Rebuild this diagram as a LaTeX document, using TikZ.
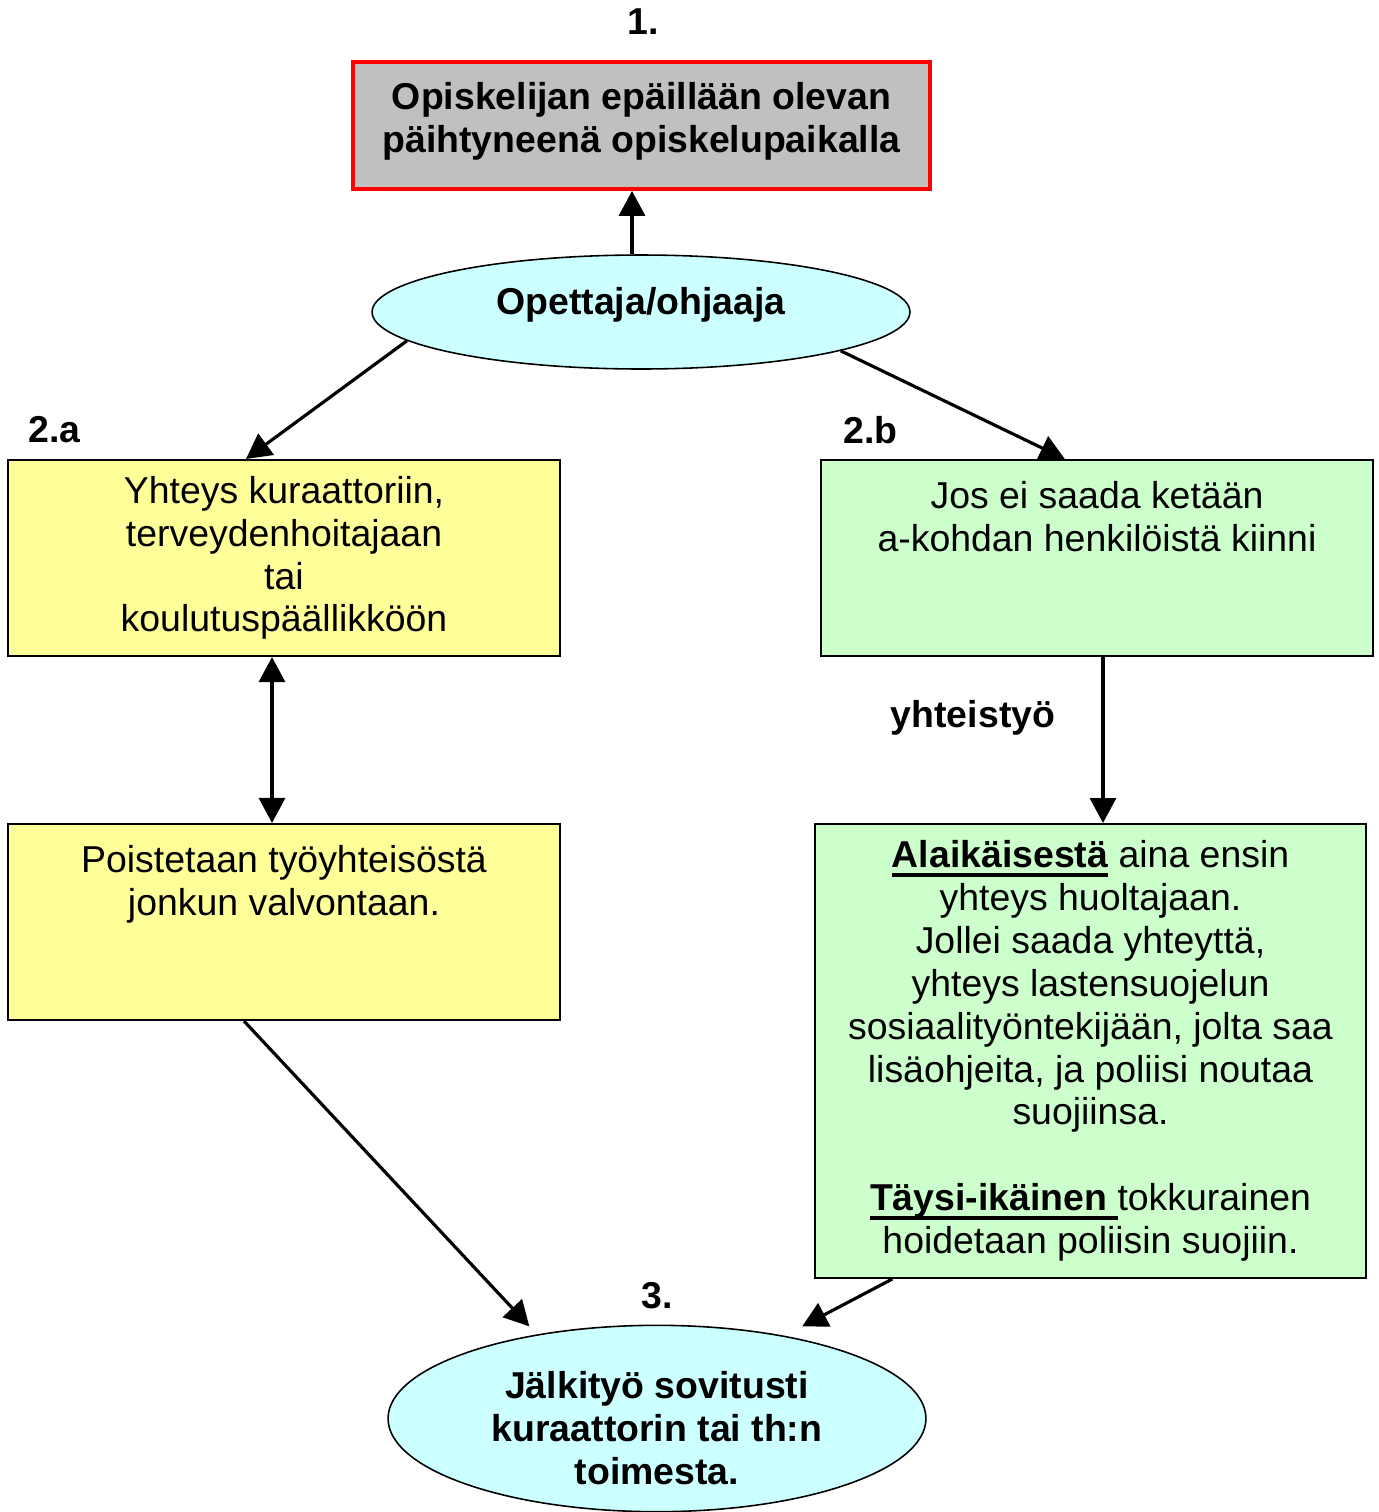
\documentclass[tikz,border=0pt]{standalone}
\usepackage{fontspec}
\setmainfont{Liberation Sans}
\usetikzlibrary{arrows.meta,shapes,calc}
\definecolor{boxgray}{HTML}{C0C0C0}
\definecolor{boxyellow}{HTML}{FFFF99}
\definecolor{boxgreen}{HTML}{CCFFCC}
\definecolor{ovalcyan}{HTML}{CCFFFF}
\newsavebox\undlbox
\newcommand{\undl}[1]{\sbox\undlbox{#1}\rlap{\rule[-5pt]{\wd\undlbox}{2pt}}\usebox\undlbox}
\tikzstyle{stepbox}=[rectangle,draw=black,line width=1.2pt,minimum width=11.04cm,minimum height=3.92cm,inner sep=0pt,align=center,font=\fontsize{21.3}{24.4}\selectfont]
\tikzstyle{oval}=[ellipse,draw=black,line width=0.9pt,fill=ovalcyan,minimum width=10.76cm,inner sep=0pt,align=center,font=\fontsize{21.3}{24.4}\selectfont\bfseries]
\tikzstyle{toptext}=[anchor=north,inner sep=0pt,align=center,yshift=-0.44cm,font=\fontsize{21.3}{24.4}\selectfont]
\tikzstyle{tag}=[inner sep=0pt,font=\fontsize{21.3}{24.4}\selectfont\bfseries]
\tikzstyle{edge}=[draw,line width=1.8pt,-{Triangle[length=0.5cm,width=0.52cm]}]

\begin{document}
\begin{tikzpicture}[x=0.02cm,y=-0.02cm]
    \useasboundingbox (0,0) rectangle (1379,1512);
    % First the boxes and ovals
    \node[rectangle,draw=red,line width=2.2pt,fill=boxgray,minimum width=11.54cm,minimum height=2.54cm,
          text depth=9pt,align=center,font=\fontsize{21.3}{24.4}\selectfont\bfseries] (tilanne) at (641.5,125.5)
          {Opiskelijan epäillään olevan\\päihtyneenä opiskelupaikalla};
    \node[oval,minimum height=2.28cm,text depth=12.5pt] (opettaja) at (641,312) {Opettaja/ohjaaja};

    \node[stepbox,fill=boxyellow] (yhteys) at (284,558)
          {Yhteys kuraattoriin,\\terveydenhoitajaan\\tai\\koulutuspäällikköön};
    \node[stepbox,fill=boxgreen,label={[toptext]north:Jos ei saada ketään\\a-kohdan henkilöistä kiinni}] (jos) at (1097,558) {};
    \node[stepbox,fill=boxyellow,label={[toptext]north:Poistetaan työyhteisöstä\\jonkun valvontaan.}] (poistetaan) at (284,922) {};
    \node[stepbox,fill=boxgreen,minimum width=11.02cm,minimum height=9.08cm] (alaikainen) at (1090.5,1051)
          {\undl{\textbf{Alaikäisestä}} aina ensin\\yhteys huoltajaan.\\Jollei saada yhteyttä,\\yhteys lastensuojelun\\
           sosiaalityöntekijään, jolta saa\\lisäohjeita, ja poliisi noutaa\\suojiinsa.\\[24.4pt]
           \undl{\textbf{Täysi-ikäinen}\ }tokkurainen\\hoidetaan poliisin suojiin.};
    \node[oval,minimum height=3.66cm] (jalkityo) at (657,1418.5)
          {\rule{0pt}{26pt}Jälkityö sovitusti\\kuraattorin tai th:n\\toimesta.};

    % Step numbers and the other labels
    \node[tag] (n1) at (643,22) {1.};
    \node[tag,anchor=west] (n2a) at (28,430) {2.a};
    \node[tag,anchor=west] (n2b) at (843,430) {2.b};
    \node[tag] (yhteistyo) at (973,718) {yhteistyö};
    \node[tag] (n3) at (657,1296) {3.};

    % Connect them with arrows
    \path[edge] ([xshift=-0.18cm]opettaja.north) -- ([xshift=-0.18cm]opettaja.north |- tilanne.south);
    \foreach \source/ \dest in {opettaja.187/yhteys.111, opettaja.349/jos.108}
        \path[edge] (\source) -- (\dest);
    \path[edge,{Triangle[length=0.5cm,width=0.52cm]}-{Triangle[length=0.5cm,width=0.52cm]}]
        ([xshift=-0.24cm]yhteys.south) -- ([xshift=-0.24cm]poistetaan.north);
    \path[edge] ([xshift=0.12cm]jos.south) -- ([xshift=0.12cm]jos.south |- alaikainen.north);
    \path[edge,shorten >=0.22cm] (poistetaan.248) -- (jalkityo.145);
    \path[edge,shorten >=0.4cm] (alaikainen.229) -- (jalkityo.33.4);
\end{tikzpicture}
\end{document}
